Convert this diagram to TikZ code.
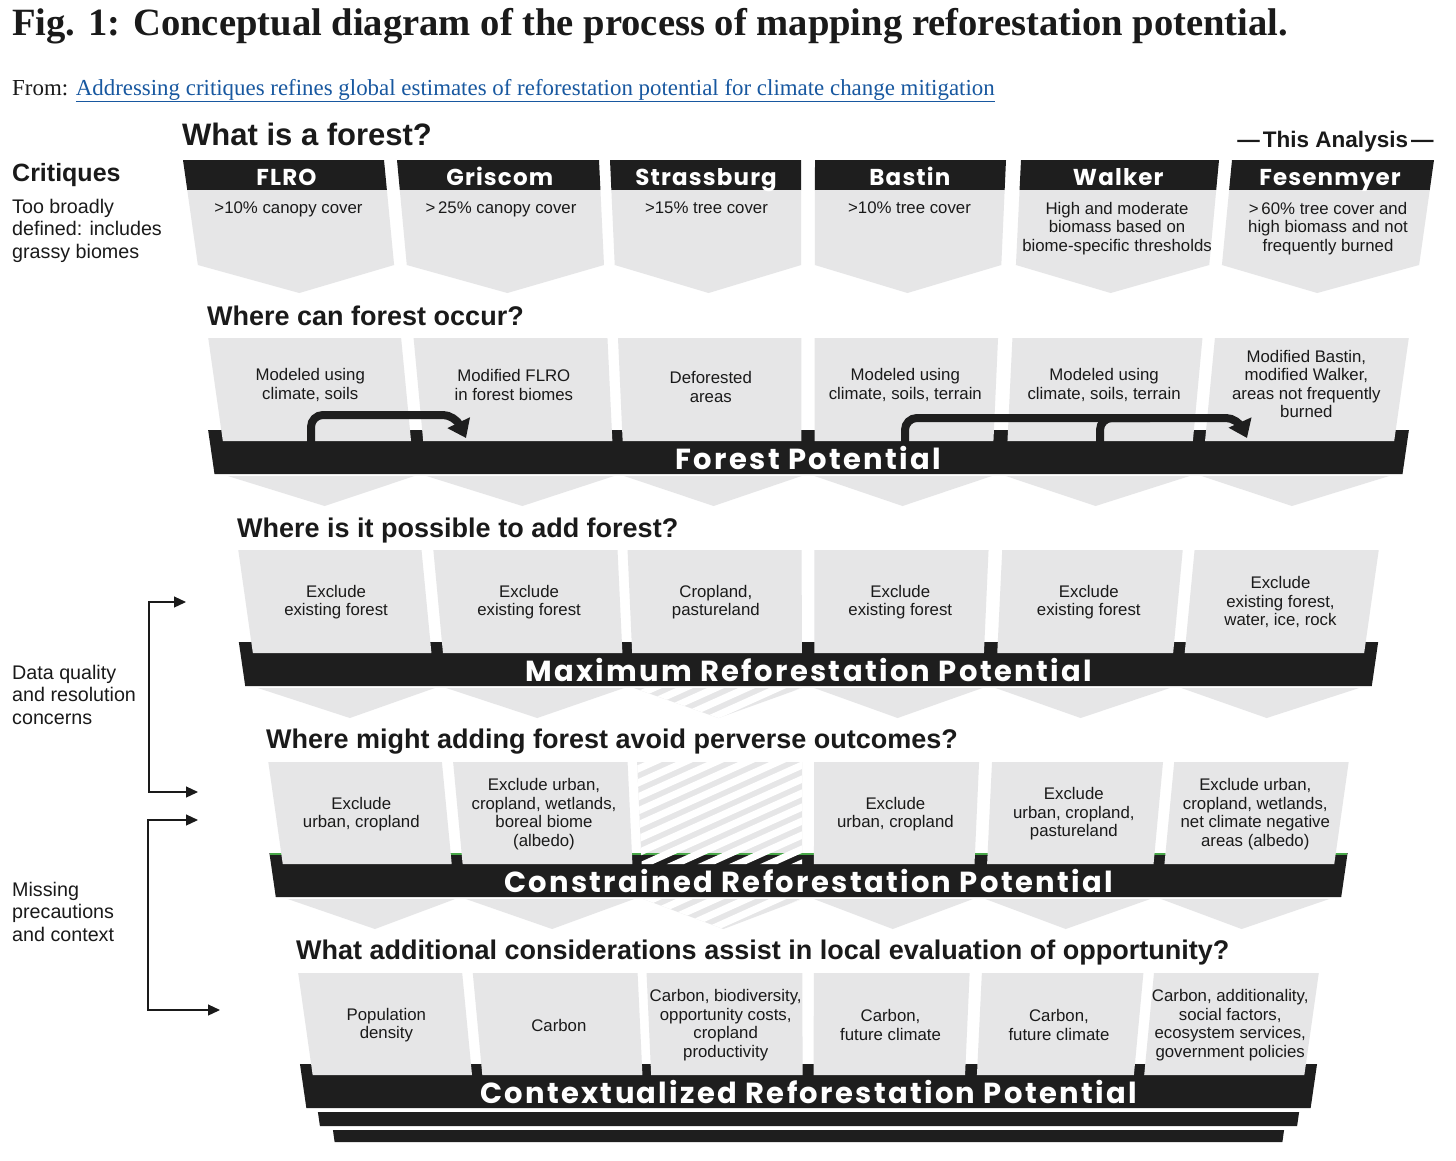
\documentclass[tikz,border=0pt]{standalone}
\usepackage{fontspec}
\setmainfont{Liberation Sans}
\newfontfamily\titlefont{Liberation Serif}
\newfontfamily\bannerfont{Poppins}[LetterSpace=8]
\newfontfamily\tagfont{Poppins}[LetterSpace=5]
\usepackage{tikz}
\usetikzlibrary{arrows.meta}
\definecolor{ink}{RGB}{26,26,26}
\definecolor{barblack}{RGB}{30,30,30}
\definecolor{cardgray}{RGB}{230,230,231}
\definecolor{linkblue}{RGB}{24,88,160}
\definecolor{edgegreen}{RGB}{72,168,72}

% perspective: all column edges run to one point far below the middle
\makeatletter
\tikzset{pv/.cd, u/.store in=\pv@u, y/.store in=\pv@y}
\tikzdeclarecoordinatesystem{pv}{%
  \tikzset{pv/.cd,#1}%
  \pgfmathsetmacro\pv@yy{\pv@y}%
  \pgfmathsetmacro\pv@x{808.5+((\pv@u)-808.5)*((4574-\pv@yy)/4414)}%
  \pgfpointxy{\pv@x}{\pv@yy}}
\makeatother

% card with an optional point underneath: left u, right u, top, bottom, point depth
\newcommand{\panel}[6][cardgray]{%
  \fill[#1] (pv cs:u=#2,y=#4) -- (pv cs:u=#3,y=#4) -- (pv cs:u=#3,y=#5)
    -- (pv cs:u={(#2+#3)/2},y={#5+#6}) -- (pv cs:u=#2,y=#5) -- cycle;}
% striped (left out) card: left u, right u, top, bottom, point depth, grey down to
\newcommand{\hatch}[6]{%
  \begin{scope}
    \clip (pv cs:u=#1,y=#3) -- (pv cs:u=#2,y=#3) -- (pv cs:u=#2,y=#4)
      -- (pv cs:u={(#1+#2)/2},y={#4+#5}) -- (pv cs:u=#1,y=#4) -- cycle;
    \fill[cardgray] (0,#3) rectangle (1456,#6);
    \foreach \k in {-2,...,18} \draw[white, line width=7pt] (560,{#3+\k*14}) -- ++(300,-135);
  \end{scope}}

\begin{document}
\begin{tikzpicture}[x=1pt, y=-1pt, >={Triangle[length=12pt,width=11pt]}]
  \tikzstyle{question} = [anchor=base west, inner sep=0pt, text=ink, font=\bfseries\fontsize{27}{30}\selectfont]
  \tikzstyle{side} = [anchor=base west, inner sep=0pt, text=ink, align=left, font=\fontsize{19.7}{22.5}\selectfont]
  \tikzstyle{cardtext} = [inner sep=0pt, text=ink, align=center, font=\fontsize{16.8}{18.6}\selectfont]
  \tikzstyle{tag} = [anchor=base, inner sep=0pt, text=white, font=\tagfont\bfseries\fontsize{23}{24}\selectfont]
  \tikzstyle{banner} = [anchor=base, inner sep=0pt, text=white, font=\bannerfont\bfseries\fontsize{29}{30}\selectfont]
  \tikzstyle{bracket} = [<->, line width=1.2pt, draw=ink]
  \tikzstyle{flow} = [draw=barblack, line width=8pt, rounded corners=12pt, -{Triangle[length=17pt,width=24pt]}]
  \def\cols{183/384,397/599,610/801,815/1006,1021/1219,1232/1434}
  \def\colsgap{183/384,397/599,815/1006,1021/1219,1232/1434}

  \fill[white] (0,0) rectangle (1456,1160);

  % Title and source
  \node[anchor=base west, inner sep=0pt, text=ink, font=\titlefont\bfseries\fontsize{38.6}{40}\selectfont] (title) at (12,35) {Fig. 1: Conceptual diagram of the process of mapping reforestation potential.};
  \node[anchor=base west, inner sep=0pt, text=ink, font=\titlefont\fontsize{22.9}{24}\selectfont] (source) at (12,95) {From: \textcolor{linkblue}{\underline{Addressing critiques refines global estimates of reforestation potential for climate change mitigation}}};

  % Left column (a text block sits on its last line)
  \node[anchor=base west, inner sep=0pt, text=ink, font=\bfseries\fontsize{25}{28}\selectfont] (critiques) at (12,181) {Critiques};
  \node[side] (broad) at (12,258) {Too broadly\\defined: includes\\grassy biomes};
  \node[side] (quality) at (12,724) {Data quality\\and resolution\\concerns};
  \node[side] (missing) at (12,941) {Missing\\precautions\\and context};
  \coordinate (dqTop) at (186,602);
  \coordinate (dqBot) at (198,792);
  \coordinate (mpTop) at (198,820);
  \coordinate (mpBot) at (220,1010);
  \draw[bracket] (dqTop) -- ++(-37,0) |- (dqBot);
  \draw[bracket] (mpTop) -- ++(-50,0) |- (mpBot);

  % Row 1: What is a forest?
  \node[question, font=\bfseries\fontsize{31}{33}\selectfont] (qForest) at (182,145) {What is a forest?};
  \node[anchor=base, inner sep=0pt, text=ink, font=\bfseries\fontsize{22.5}{24}\selectfont] (thisAnalysis) at (1335.5,147) {---\kern3pt This Analysis\kern3pt---};
  \foreach \lft/\rgt in \cols {
    \panel[barblack]{\lft}{\rgt}{160}{190}{0}
    \panel{\lft}{\rgt}{190}{265}{28}
  }
  \node[tag] (flro) at (pv cs:u=283.5,y=185) {FLRO};
  \node[tag] (griscom) at (pv cs:u=498,y=185) {Griscom};
  \node[tag] (strassburg) at (pv cs:u=705.5,y=185) {Strassburg};
  \node[tag] (bastin) at (pv cs:u=910.5,y=185) {Bastin};
  \node[tag] (walker) at (pv cs:u=1120,y=185) {Walker};
  \node[tag] (fesenmyer) at (pv cs:u=1333,y=185) {Fesenmyer};
  \node[cardtext, anchor=north] (flroDef) at (pv cs:u=283.5,y=202) {>10\% canopy cover};
  \node[cardtext, anchor=north] (griscomDef) at (pv cs:u=498,y=202) {>\,25\% canopy cover};
  \node[cardtext, anchor=north] (strassDef) at (pv cs:u=705.5,y=202) {>15\% tree cover};
  \node[cardtext, anchor=north] (bastinDef) at (pv cs:u=910.5,y=202) {>10\% tree cover};
  \node[cardtext, anchor=north] (walkerDef) at (pv cs:u=1120,y=202) {High and moderate\\biomass based on\\biome-specific thresholds};
  \node[cardtext, anchor=north] (fesenDef) at (pv cs:u=1333,y=202) {>\,60\% tree cover and\\high biomass and not\\frequently burned};

  % Row 2: Forest Potential
  \node[question] (qOccur) at (207,325) {Where can forest occur?};
  \foreach \lft/\rgt in \cols {\panel{\lft}{\rgt}{476}{476}{30}}
  \panel[barblack]{169}{1448}{430}{474}{0}
  \foreach \lft/\rgt in \cols {\panel{\lft}{\rgt}{338}{441}{0}}
  \node[banner] (forestPot) at (pv cs:u=808.5,y=469) {Forest Potential};
  \node[cardtext] (occ1) at (pv cs:u=283.5,y=385) {Modeled using\\climate, soils};
  \node[cardtext] (occ2) at (pv cs:u=498,y=385) {Modified FLRO\\in forest biomes};
  \node[cardtext] (occ3) at (pv cs:u=705.5,y=387) {Deforested\\areas};
  \node[cardtext] (occ4) at (pv cs:u=910.5,y=385) {Modeled using\\climate, soils, terrain};
  \node[cardtext] (occ5) at (pv cs:u=1120,y=385) {Modeled using\\climate, soils, terrain};
  \node[cardtext] (occ6) at (pv cs:u=1333,y=384) {Modified Bastin,\\modified Walker,\\areas not frequently\\burned};
  \coordinate (occ1Out) at (311,442);
  \coordinate (occ2In) at (466,438);
  \coordinate (occ4Out) at (905,442);
  \coordinate (occ5Out) at (1100,442);
  \coordinate (occ6In) at (1247,438);
  \draw[flow] (occ1Out) |- ++(144,-27) -- (occ2In);
  \draw[flow] (occ4Out) |- ++(333,-24) -- (occ6In);
  \draw[draw=barblack, line width=8pt, rounded corners=12pt] (occ5Out) |- ++(50,-24);

  % Row 3: Maximum Reforestation Potential
  \node[question] (qAdd) at (237,537) {Where is it possible to add forest?};
  \foreach \lft/\rgt in \colsgap {\panel{\lft}{\rgt}{688}{688}{30}}
  \hatch{610}{801}{688}{688}{30}{800}
  \panel[barblack]{169}{1448}{642}{686}{0}
  \foreach \lft/\rgt in \cols {\panel{\lft}{\rgt}{550}{653}{0}}
  \node[banner] (maxPot) at (pv cs:u=808.5,y=681) {Maximum Reforestation Potential};
  \node[cardtext] (add1) at (pv cs:u=283.5,y=602) {Exclude\\existing forest};
  \node[cardtext] (add2) at (pv cs:u=498,y=602) {Exclude\\existing forest};
  \node[cardtext] (add3) at (pv cs:u=705.5,y=602) {Cropland,\\pastureland};
  \node[cardtext] (add4) at (pv cs:u=910.5,y=602) {Exclude\\existing forest};
  \node[cardtext] (add5) at (pv cs:u=1120,y=602) {Exclude\\existing forest};
  \node[cardtext] (add6) at (pv cs:u=1333,y=602) {Exclude\\existing forest,\\water, ice, rock};

  % Row 4: Constrained Reforestation Potential
  \node[question] (qAvoid) at (266,748) {Where might adding forest avoid perverse outcomes?};
  \foreach \lft/\rgt in \colsgap {\panel{\lft}{\rgt}{899}{899}{30}}
  \hatch{610}{801}{899}{899}{30}{1000}
  \panel[barblack]{169}{1448}{853}{897}{0}
  \draw[edgegreen, line width=1.6pt] (pv cs:u=169,y=853.8) -- (pv cs:u=1448,y=853.8);
  \foreach \lft/\rgt in \colsgap {\panel{\lft}{\rgt}{762}{864}{0}}
  \hatch{610}{801}{762}{864}{0}{853}
  \node[banner] (conPot) at (pv cs:u=808.5,y=892) {Constrained Reforestation Potential};
  \node[cardtext] (avoid1) at (pv cs:u=283.5,y=814) {Exclude\\urban, cropland};
  \node[cardtext] (avoid2) at (pv cs:u=498,y=814) {Exclude urban,\\cropland, wetlands,\\boreal biome\\(albedo)};
  \node[cardtext] (avoid4) at (pv cs:u=910.5,y=814) {Exclude\\urban, cropland};
  \node[cardtext] (avoid5) at (pv cs:u=1120,y=814) {Exclude\\urban, cropland,\\pastureland};
  \node[cardtext] (avoid6) at (pv cs:u=1333,y=814) {Exclude urban,\\cropland, wetlands,\\net climate negative\\areas (albedo)};

  % Row 5: Contextualized Reforestation Potential
  \node[question] (qLocal) at (296,959) {What additional considerations assist in local evaluation of opportunity?};
  \panel[barblack]{169}{1448}{1064}{1108}{0}
  \panel[barblack]{183}{1434}{1112}{1126}{0}
  \panel[barblack]{199}{1418}{1130}{1142}{0}
  \foreach \lft/\rgt in \cols {\panel{\lft}{\rgt}{973}{1075}{0}}
  \node[banner] (ctxPot) at (pv cs:u=808.5,y=1103) {Contextualized Reforestation Potential};
  \node[cardtext] (ctx1) at (pv cs:u=283.5,y=1025) {Population\\density};
  \node[cardtext] (ctx2) at (pv cs:u=498,y=1025) {Carbon};
  \node[cardtext] (ctx3) at (pv cs:u=705.5,y=1025) {Carbon, biodiversity,\\opportunity costs,\\cropland\\productivity};
  \node[cardtext] (ctx4) at (pv cs:u=910.5,y=1025) {Carbon,\\future climate};
  \node[cardtext] (ctx5) at (pv cs:u=1120,y=1025) {Carbon,\\future climate};
  \node[cardtext] (ctx6) at (pv cs:u=1333,y=1025) {Carbon, additionality,\\social factors,\\ecosystem services,\\government policies};
\end{tikzpicture}
\end{document}
